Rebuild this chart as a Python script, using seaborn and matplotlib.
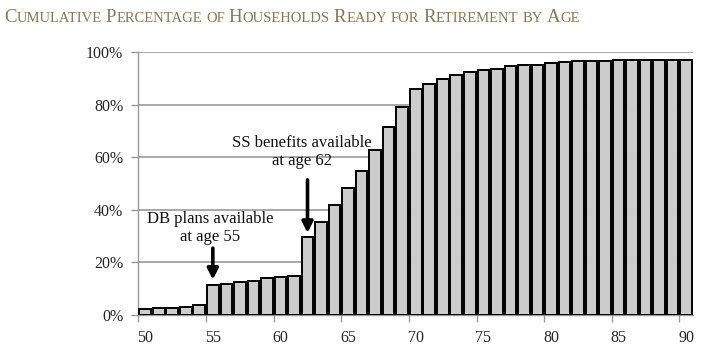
import re
import numpy as np
import pandas as pd
import matplotlib.pyplot as plt
import seaborn as sns

# data
ages = list(range(50, 91))
ready_pct = [2.3, 2.7, 2.7, 2.9, 3.7,
             11.4, 11.8, 12.6, 12.9, 14.0, 14.3, 14.7,
             29.7, 35.4, 41.9, 48.2, 54.7, 62.7, 71.4, 79.1,
             85.9, 87.9, 89.7, 91.3, 92.5, 93.2, 93.6, 94.8, 95.2, 95.2,
             95.9, 96.3, 96.7, 96.7, 96.7, 97.1, 97.1, 97.1, 97.1, 97.1, 97.1]
tick_ages = [50, 55, 60, 65, 70, 75, 80, 85, 90]
y_ticks = [0, 20, 40, 60, 80, 100]
title = 'Cumulative Percentage of Households Ready for Retirement by Age'
note_db = 'DB plans available\nat age 55'
note_ss = 'SS benefits available\nat age 62'

df = pd.DataFrame({'age': ages, 'pct': ready_pct})

sns.set_style('white')
plt.rcParams['font.family'] = ['Liberation Serif', 'DejaVu Serif']

fig = plt.figure(figsize=(7.1, 3.53), dpi=100)
ax = fig.add_axes([0.195, 0.108, 0.781, 0.744])

sns.barplot(data=df, x='age', y='pct', color='#cccccc', saturation=1,
            edgecolor='black', linewidth=1.4, width=0.86, ax=ax, zorder=3)

ax.set_xlim(-0.5, len(ages) - 0.5)
ax.set_ylim(0, 100)
ax.set_xlabel('')
ax.set_ylabel('')

# y axis
ax.set_yticks(y_ticks)
ax.set_yticklabels([f'{v}%' for v in y_ticks])
ax.yaxis.grid(True, color='#999999', lw=1.2)
ax.xaxis.grid(False)
ax.set_axisbelow(True)
ax.tick_params(axis='y', length=5, color='#999999', width=1, pad=6,
               labelsize=11.5, left=True)

# x axis: labels under bars, tick marks between bars
pos = [ages.index(a) for a in tick_ages]
ax.set_xticks(pos)
ax.set_xticklabels([str(a) for a in tick_ages])
ax.set_xticks([p - 0.5 for p in pos], minor=True)
ax.tick_params(axis='x', which='major', length=0, pad=11, labelsize=11.5)
ax.tick_params(axis='x', which='minor', length=5, color='#999999', width=1, bottom=True)

for s in ['top', 'right']:
    ax.spines[s].set_visible(False)
for s in ['left', 'bottom']:
    ax.spines[s].set_color('#999999')
    ax.spines[s].set_linewidth(1)

# annotations
arrow = dict(arrowstyle='-|>', color='black', lw=2.6, mutation_scale=16,
             shrinkA=0, shrinkB=0)
i55 = ages.index(55)
i62 = ages.index(62)
ax.annotate('', xy=(i55, ready_pct[i55] + 2), xytext=(i55, ready_pct[i55] + 14),
            arrowprops=arrow, zorder=5)
ax.annotate('', xy=(i62, ready_pct[i62] + 1.5), xytext=(i62, ready_pct[i62] + 21.7),
            arrowprops=arrow, zorder=5)
ax.text(i55 - 0.2, 33, note_db, ha='center', va='center', fontsize=12,
        linespacing=1.12, color='#111111')
ax.text(i62 - 0.4, 62, note_ss, ha='center', va='center', fontsize=12,
        linespacing=1.12, color='#111111')

# small caps title built from two font sizes
renderer = fig.canvas.get_renderer()
big, small = 13.6, 10.5
color = '#8a7755'
x = 4 / fig.bbox.width
y = 1 - 22 / fig.bbox.height
space = 0.28 * small * fig.dpi / 72 / fig.bbox.width
for word in title.split(' '):
    for run in re.findall(r'[A-Z]+|[^A-Z]+', word):
        size = big if run[0].isupper() else small
        t = fig.text(x, y, run.upper(), fontsize=size, color=color,
                     ha='left', va='baseline')
        x += t.get_window_extent(renderer).width / fig.bbox.width
    x += space

fig.savefig('out.png', dpi=100)
